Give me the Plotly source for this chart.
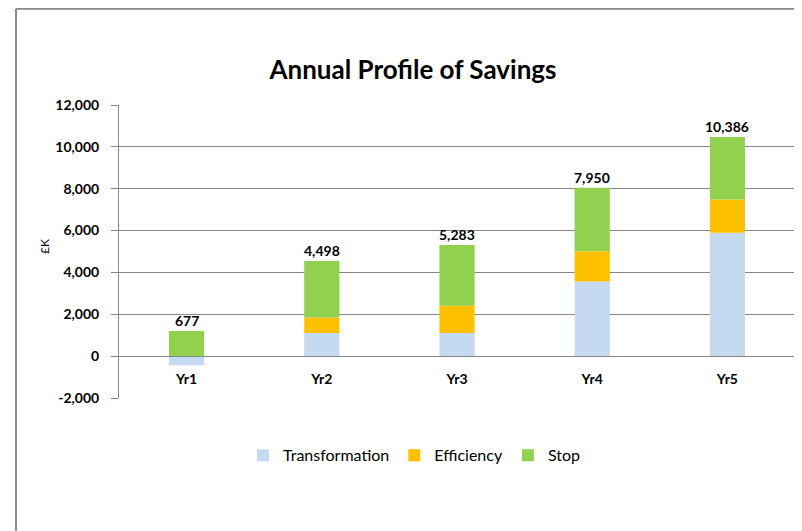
import plotly.graph_objects as go

categories = ["Yr1", "Yr2", "Yr3", "Yr4", "Yr5"]
transformation = [-440, 1100, 1100, 3570, 5900]
efficiency = [0, 750, 1310, 1440, 1580]
stop = [1200, 2700, 2900, 3040, 2990]
totals = [677, 4498, 5283, 7950, 10386]

y_tick_vals = [-2000, 0, 2000, 4000, 6000, 8000, 10000, 12000]
y_tick_text = ["-2,000", "0", "2,000", "4,000", "6,000", "8,000", "10,000", "12,000"]

series_names = ["Transformation", "Efficiency", "Stop"]
series_colors = ["#C5D9F1", "#FFC000", "#92D050"]

FONT = "Lato"
GRID = "#878787"
OFF = 8  # page body margin offset

# plot area in screen pixels
PL, PR, PT, PB = 119, 795, 104.5, 398.5
PW, PH = PR - PL, PB - PT

def px(x):
    return (x - PL) / PW

def py(y):
    return (PB - y) / PH

fig = go.Figure()
for name, vals, col in zip(series_names, [transformation, efficiency, stop], series_colors):
    fig.add_trace(go.Bar(x=categories, y=vals, name=name, marker=dict(color=col, line=dict(width=0)),
                         width=0.26))

# total labels above the positive stack
for i, c in enumerate(categories):
    top = sum(max(v[i], 0) for v in [transformation, efficiency, stop])
    fig.add_annotation(x=c, y=top, text=f"{totals[i]:,}", showarrow=False, yanchor="bottom", yshift=0,
                       font=dict(family=FONT, size=14, color="#000", weight="bold"))

# y-axis title
fig.add_annotation(xref="paper", yref="paper", x=px(44), y=py(247), text="£K", xanchor="center",
                   yanchor="middle", textangle=-90, showarrow=False,
                   font=dict(family=FONT, size=12, color="#000"))

# chart area border (top and left visible)
bx = px(16)
by = py(8)
fig.add_shape(type="line", xref="paper", yref="paper", x0=bx, x1=1.2, y0=by, y1=by,
              line=dict(color="#8a8a8a", width=2))
fig.add_shape(type="line", xref="paper", yref="paper", x0=bx, x1=bx, y0=by, y1=-0.6,
              line=dict(color="#8a8a8a", width=2))

fig.update_layout(
    width=802, height=531,
    margin=dict(l=PL - OFF, r=802 - PR + OFF, t=PT - OFF, b=531 - PB + OFF),
    paper_bgcolor="white", plot_bgcolor="white",
    barmode="relative", bargap=0.74,
    font=dict(family=FONT, color="#000"),
    title=dict(text="Annual Profile of Savings", x=(413 - OFF) / 802, xanchor="center",
               y=1 - (70 - OFF) / 531, yanchor="middle",
               font=dict(family=FONT, size=26, color="#000", weight="bold")),
    legend=dict(orientation="h", x=px(414), xanchor="center", y=py(456), yanchor="middle",
                font=dict(family=FONT, size=16, color="#000"), itemwidth=30, traceorder="normal",
                tracegroupgap=0),
    showlegend=True,
)
fig.update_yaxes(range=[-2000, 12000], tickmode="array", tickvals=y_tick_vals, ticktext=y_tick_text,
                 showgrid=True, gridcolor=GRID, gridwidth=1,
                 zeroline=False, showline=True, linecolor=GRID, linewidth=1, ticks="outside", ticklen=7,
                 tickcolor=GRID, ticklabelstandoff=9,
                 tickfont=dict(family=FONT, size=14, color="#000", weight="bold"))
fig.update_xaxes(range=[-0.5, 4.5], anchor="free", position=py(356.5), showline=True, linecolor=GRID,
                 linewidth=1, showgrid=False, ticks="", ticklabelstandoff=10,
                 tickfont=dict(family=FONT, size=14, color="#000", weight="bold"))

fig.write_html("out.html")
